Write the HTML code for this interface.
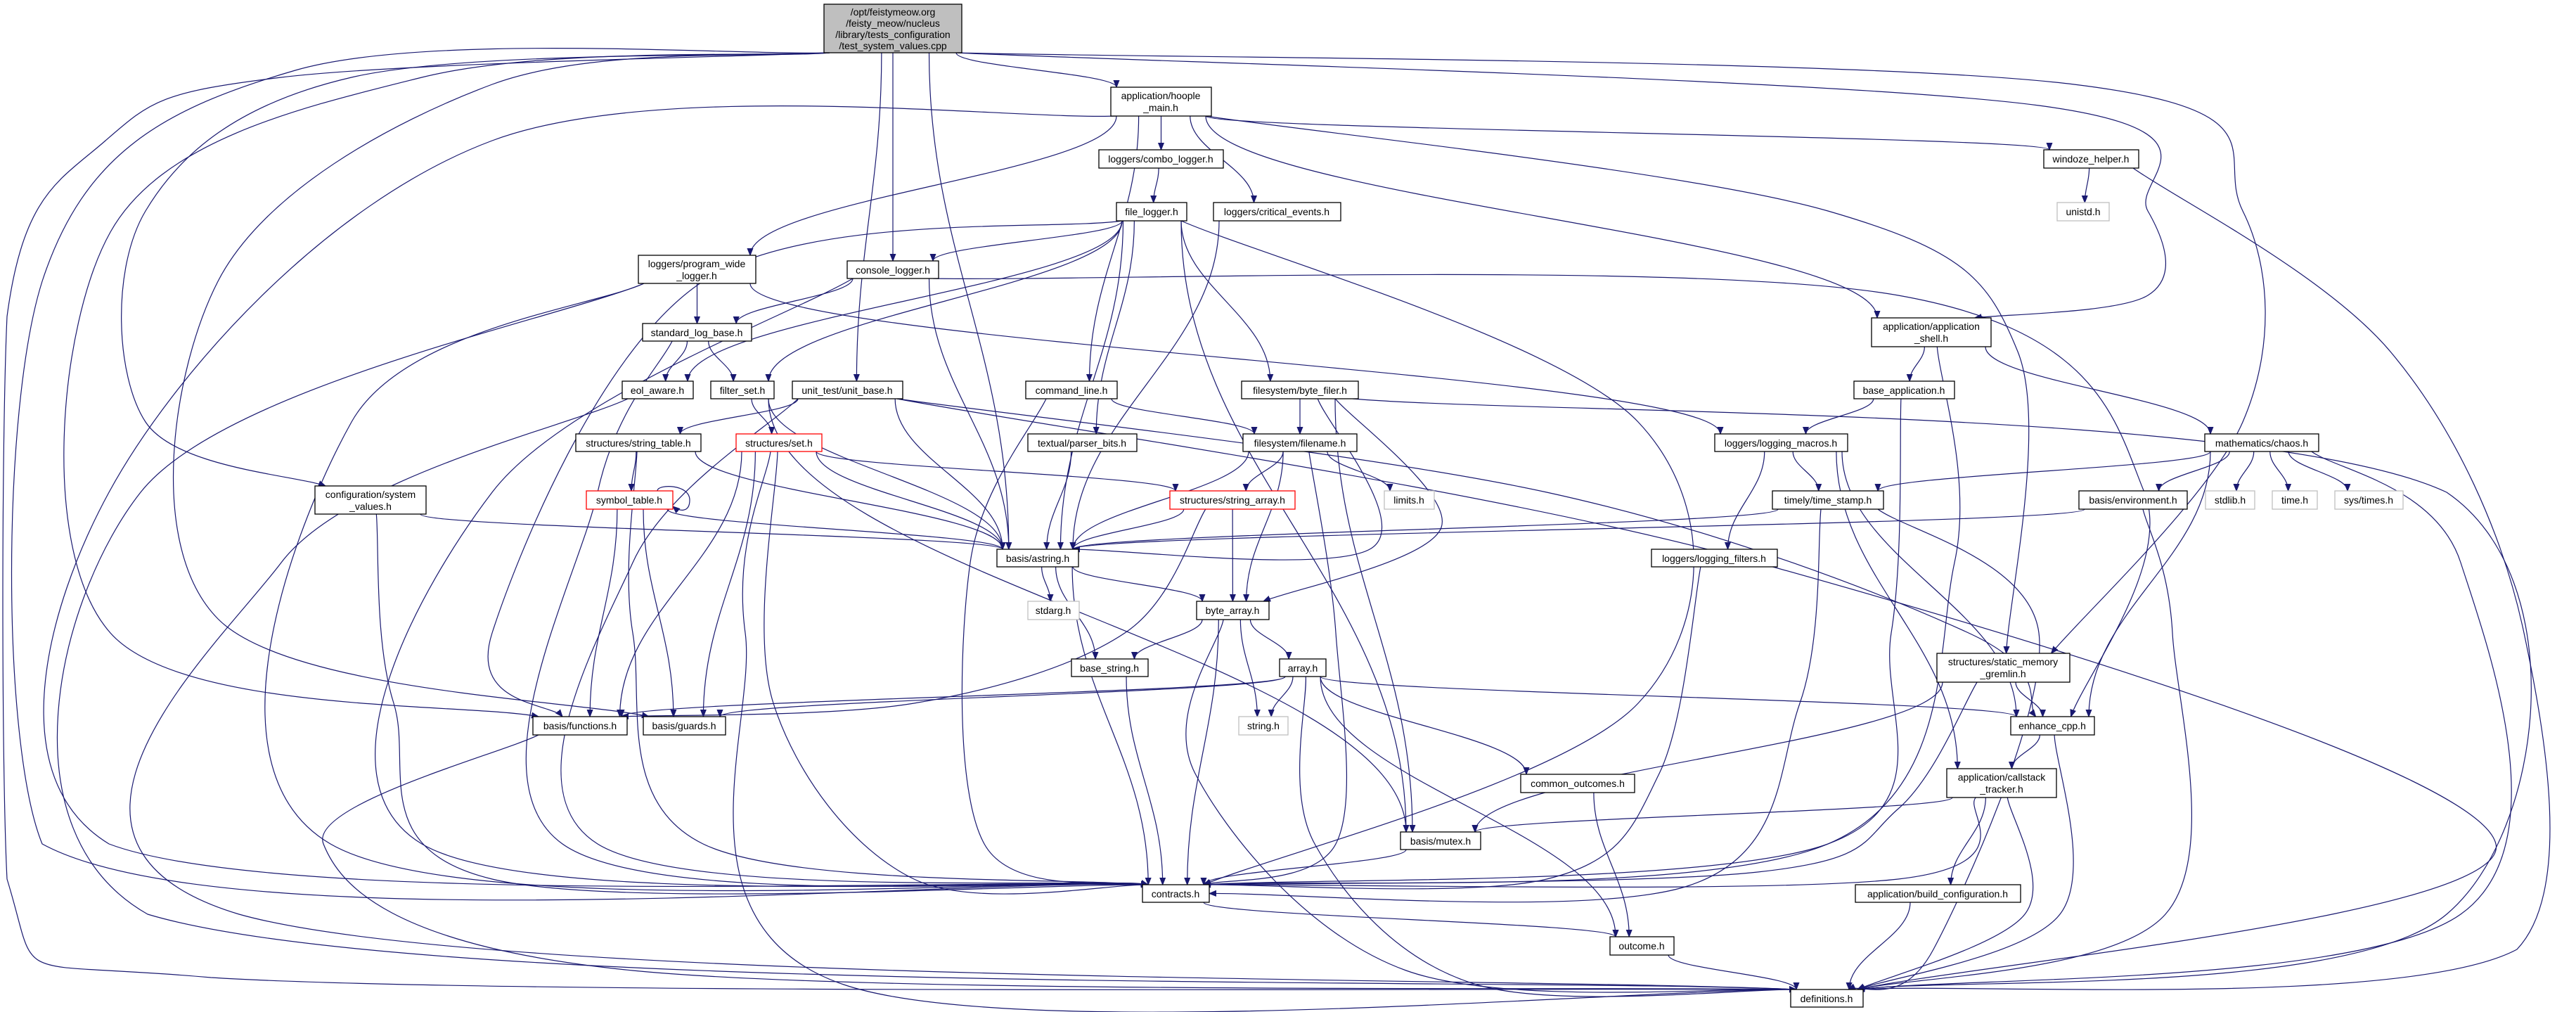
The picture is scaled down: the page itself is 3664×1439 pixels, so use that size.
<!DOCTYPE html>
<html><head><meta charset="utf-8"><style>
html,body{margin:0;padding:0;background:#fff;}
svg{display:block;}
text{font-family:"Liberation Sans",sans-serif;font-size:14px;fill:#000;text-anchor:middle;}
.n{fill:#fff;stroke:#000;stroke-width:1.3;}
.r{fill:#fff;stroke:#ff0000;stroke-width:1.3;}
.g{fill:#fff;stroke:#bfbfbf;stroke-width:1.3;}
.e{fill:none;stroke:#191970;stroke-width:1.2;}
</style></head><body>
<svg id="s" width="3664" height="1439" viewBox="0 0 3664 1439" xmlns="http://www.w3.org/2000/svg">
<defs><marker id="a" viewBox="0 0 10 10" refX="10" refY="5" markerWidth="10" markerHeight="10" markerUnits="userSpaceOnUse" orient="auto"><path d="M0,1 L10,5 L0,9 z" fill="#191970" stroke="#191970"/></marker></defs>
<g id="edges"></g>
<g id="nodes">
<rect x="1172" y="6" width="196" height="69" fill="#bfbfbf" stroke="#000" stroke-width="1.3"/>
<text x="1270" y="22">/opt/feistymeow.org</text><text x="1270" y="38">/feisty_meow/nucleus</text><text x="1270" y="54">/library/tests_configuration</text><text x="1270" y="70">/test_system_values.cpp</text>
<rect class="n" x="1580" y="124" width="143" height="41"/><text x="1651" y="141">application/hoople</text><text x="1651" y="158">_main.h</text>
<rect class="n" x="1563" y="213" width="177" height="26"/><text x="1651" y="231">loggers/combo_logger.h</text>
<rect class="n" x="1588" y="288" width="100" height="26"/><text x="1638" y="306">file_logger.h</text>
<rect class="n" x="1726" y="288" width="181" height="26"/><text x="1816" y="306">loggers/critical_events.h</text>
<rect class="n" x="2907" y="213" width="135" height="26"/><text x="2974" y="231">windoze_helper.h</text>
<rect class="g" x="2926" y="288" width="74" height="26"/><text x="2963" y="306">unistd.h</text>
<rect class="n" x="908" y="363" width="167" height="40"/><text x="991" y="380">loggers/program_wide</text><text x="991" y="397">_logger.h</text>
<rect class="n" x="1205" y="371" width="130" height="25"/><text x="1270" y="389">console_logger.h</text>
<rect class="n" x="914" y="460" width="155" height="25"/><text x="991" y="478">standard_log_base.h</text>
<rect class="n" x="2662" y="452" width="170" height="41"/><text x="2747" y="469">application/application</text><text x="2747" y="486">_shell.h</text>
<rect class="n" x="885" y="542" width="101" height="25"/><text x="935" y="560">eol_aware.h</text>
<rect class="n" x="1011" y="542" width="90" height="25"/><text x="1056" y="560">filter_set.h</text>
<rect class="n" x="1127" y="542" width="157" height="25"/><text x="1205" y="560">unit_test/unit_base.h</text>
<rect class="n" x="1459" y="542" width="130" height="25"/><text x="1524" y="560">command_line.h</text>
<rect class="n" x="1766" y="542" width="166" height="25"/><text x="1849" y="560">filesystem/byte_filer.h</text>
<rect class="n" x="2637" y="542" width="143" height="25"/><text x="2708" y="560">base_application.h</text>
<rect class="n" x="819" y="617" width="178" height="25"/><text x="908" y="635">structures/string_table.h</text>
<rect class="r" x="1047" y="617" width="122" height="25"/><text x="1108" y="635">structures/set.h</text>
<rect class="n" x="1462" y="617" width="155" height="25"/><text x="1539" y="635">textual/parser_bits.h</text>
<rect class="n" x="1768" y="617" width="162" height="25"/><text x="1849" y="635">filesystem/filename.h</text>
<rect class="n" x="2439" y="617" width="189" height="25"/><text x="2533" y="635">loggers/logging_macros.h</text>
<rect class="n" x="3136" y="617" width="162" height="25"/><text x="3217" y="635">mathematics/chaos.h</text>
<rect class="n" x="448" y="691" width="158" height="40"/><text x="527" y="708">configuration/system</text><text x="527" y="725">_values.h</text>
<rect class="r" x="834" y="698" width="123" height="26"/><text x="895" y="716">symbol_table.h</text>
<rect class="r" x="1664" y="698" width="178" height="26"/><text x="1753" y="716">structures/string_array.h</text>
<rect class="g" x="1969" y="698" width="71" height="26"/><text x="2004" y="716">limits.h</text>
<rect class="n" x="2521" y="698" width="158" height="26"/><text x="2600" y="716">timely/time_stamp.h</text>
<rect class="n" x="2957" y="698" width="154" height="26"/><text x="3034" y="716">basis/environment.h</text>
<rect class="g" x="3137" y="698" width="70" height="26"/><text x="3172" y="716">stdlib.h</text>
<rect class="g" x="3232" y="698" width="64" height="26"/><text x="3264" y="716">time.h</text>
<rect class="g" x="3321" y="698" width="97" height="26"/><text x="3369" y="716">sys/times.h</text>
<rect class="n" x="1418" y="781" width="116" height="25"/><text x="1476" y="799">basis/astring.h</text>
<rect class="n" x="2349" y="781" width="179" height="25"/><text x="2438" y="799">loggers/logging_filters.h</text>
<rect class="g" x="1462" y="855" width="73" height="26"/><text x="1498" y="873">stdarg.h</text>
<rect class="n" x="1702" y="855" width="103" height="26"/><text x="1753" y="873">byte_array.h</text>
<rect class="n" x="1524" y="937" width="109" height="25"/><text x="1578" y="955">base_string.h</text>
<rect class="n" x="1820" y="937" width="66" height="25"/><text x="1853" y="955">array.h</text>
<rect class="n" x="2755" y="929" width="189" height="41"/><text x="2849" y="946">structures/static_memory</text><text x="2849" y="963">_gremlin.h</text>
<rect class="n" x="758" y="1019" width="134" height="26"/><text x="825" y="1037">basis/functions.h</text>
<rect class="n" x="915" y="1019" width="117" height="26"/><text x="973" y="1037">basis/guards.h</text>
<rect class="g" x="1762" y="1019" width="70" height="26"/><text x="1797" y="1037">string.h</text>
<rect class="n" x="2860" y="1019" width="119" height="26"/><text x="2919" y="1037">enhance_cpp.h</text>
<rect class="n" x="2163" y="1101" width="162" height="26"/><text x="2244" y="1119">common_outcomes.h</text>
<rect class="n" x="2769" y="1093" width="156" height="41"/><text x="2847" y="1110">application/callstack</text><text x="2847" y="1127">_tracker.h</text>
<rect class="n" x="1992" y="1183" width="114" height="25"/><text x="2049" y="1201">basis/mutex.h</text>
<rect class="n" x="1625" y="1258" width="95" height="25"/><text x="1672" y="1276">contracts.h</text>
<rect class="n" x="2639" y="1258" width="235" height="25"/><text x="2756" y="1276">application/build_configuration.h</text>
<rect class="n" x="2290" y="1332" width="91" height="26"/><text x="2335" y="1350">outcome.h</text>
<rect class="n" x="2547" y="1407" width="103" height="25"/><text x="2598" y="1425">definitions.h</text>
</g>
</svg>
<script>
var N={root:[1172,6,196,69],hoople:[1580,124,143,41],combo:[1563,213,177,26],fl:[1588,288,100,26],crit:[1726,288,181,26],
win:[2907,213,135,26],unistd:[2926,288,74,26],pwl:[908,363,167,40],con:[1205,371,130,25],slb:[914,460,155,25],
shell:[2662,452,170,41],eol:[885,542,101,25],fs:[1011,542,90,25],ub:[1127,542,157,25],cl:[1459,542,130,25],bf:[1766,542,166,25],
ba:[2637,542,143,25],st:[819,617,178,25],set:[1047,617,122,25],pb:[1462,617,155,25],fn:[1768,617,162,25],lm:[2439,617,189,25],
chaos:[3136,617,162,25],sv:[448,691,158,40],sym:[834,698,123,26],sa:[1664,698,178,26],lim:[1969,698,71,26],ts:[2521,698,158,26],
env:[2957,698,154,26],stdlib:[3137,698,70,26],time:[3232,698,64,26],systimes:[3321,698,97,26],as:[1418,781,116,25],lf:[2349,781,179,25],
stdarg:[1462,855,73,26],bya:[1702,855,103,26],bs:[1524,937,109,25],arr:[1820,937,66,25],smg:[2755,929,189,41],func:[758,1019,134,26],
guards:[915,1019,117,26],strh:[1762,1019,70,26],enh:[2860,1019,119,26],co:[2163,1101,162,26],cst:[2769,1093,156,41],mutex:[1992,1183,114,25],
con2:[1625,1258,95,25],bc:[2639,1258,235,25],out:[2290,1332,91,26],def:[2547,1407,103,25]};
var E=[
['root','hoople'],['root','con'],['root','ub'],['root','as'],['root','func',[[600,110],[157,330],[157,900]]],['root','guards',[[700,120],[310,400],[310,880]]],
['root','sv',[[500,110],[207,300],[207,600]]],['root','con2',[[420,100],[60,400],[60,1200]]],['root','def',[[400,110],[150,200],[10,450],[10,1250],[300,1390]]],
['root','shell',[[2900,150],[3055,300],[3055,420]]],['root','smg',[[2950,120],[3190,300],[3190,600]]],
['hoople','combo'],['hoople','crit'],['hoople','cl'],['hoople','pwl'],['hoople','win'],['hoople','shell'],['hoople','smg',[[2600,300],[2870,500]]],['hoople','con2',[[700,200],[155,700],[155,1200]]],
['combo','fl'],['fl','con'],['fl','eol'],['fl','fs'],['fl','pb'],['fl','as'],['fl','bf'],['fl','mutex'],['fl','con2',[[2330,600],[2330,1000]]],['fl','func',[[1000,400],[700,900]]],
['crit','as'],['win','unistd'],['win','def',[[3400,500],[3590,900],[3580,1350]]],
['pwl','slb'],['pwl','lm'],['pwl','def',[[200,700],[210,1300]]],['pwl','con2',[[500,600],[470,1200]]],
['con','slb'],['con','as'],['con','enh',[[2700,420],[3050,700]]],['con','con2',[[700,700],[600,1200]]],
['slb','eol'],['slb','fs'],['slb','con2',[[850,700],[800,1200]]],
['shell','ba'],['shell','chaos'],['shell','con2',[[2780,800],[2600,1200]]],
['eol','def',[[400,800],[340,1300]]],['fs','set'],['fs','as'],['fs','mutex'],
['ub','st'],['ub','as'],['ub','enh',[[2200,700],[2800,900]]],['ub','def',[[2500,800],[3550,1200]]],['ub','con2',[[900,800],[850,1200]]],
['cl','fn'],['cl','con2',[[1380,800],[1400,1200]]],['bf','fn'],['bf','bya',[[2050,750]]],['bf','mutex'],['bf','def',[[3480,700],[3480,1300]]],['bf','as',[[1950,780]]],
['ba','lm'],['ba','con2',[[2690,900],[2600,1200]]],
['st','sym'],['st','as'],['st','con2',[[900,900],[1000,1200]]],
['set','sa'],['set','as'],['set','func'],['set','guards'],['set','con2',[[1100,1000],[1300,1250]]],['set','def',[[1060,900],[1200,1400]]],
['pb','as'],['fn','sa'],['fn','lim'],['fn','as'],['fn','bya'],['fn','con2',[[1900,900],[1900,1200]]],
['lm','ts'],['lm','lf'],['lm','cst'],['lm','enh'],
['chaos','ts'],['chaos','env'],['chaos','stdlib'],['chaos','time'],['chaos','systimes'],['chaos','enh'],['chaos','def',[[3500,800],[3500,1300]]],
['sv','as'],['sv','con2',[[560,1000],[700,1250]]],
['sym','func'],['sym','guards'],['sym','as'],
['sa','as'],['sa','bya'],['sa','func',[[1600,900],[1300,1000]]],
['ts','as'],['ts','con2',[[2560,1000],[2400,1260]]],['ts','def',[[2900,900],[2750,1350]]],
['env','as'],['env','def',[[3090,900],[3080,1300]]],
['as','stdarg'],['as','bya'],['as','bs'],['as','con2'],
['lf','con2',[[2360,1100],[2200,1250]]],
['bya','bs'],['bya','arr'],['bya','strh'],['bya','con2'],['bya','def',[[1700,1100],[2000,1380]]],
['bs','con2'],['arr','func'],['arr','guards'],['arr','strh'],['arr','co'],['arr','out'],['arr','enh'],['arr','def',[[1870,1200],[2100,1400]]],
['smg','mutex'],['smg','enh'],['smg','con2',[[2700,1150],[2500,1240]]],
['func','def',[[460,1200],[900,1380]]],['enh','cst'],['enh','def',[[2930,1300]]],['co','out'],
['cst','mutex'],['cst','bc'],['cst','con2',[[2700,1250]]],['cst','def',[[2880,1300]]],['mutex','con2'],['con2','out'],['bc','def'],['out','def']
];
function cx(n){return n[0]+n[2]/2;}
function cy(n){return n[1]+n[3]/2;}
function pathThrough(p){var d='M'+p[0][0].toFixed(1)+','+p[0][1].toFixed(1);
 for(var i=0;i<p.length-1;i++){var p0=p[i-1]||p[i],p1=p[i],p2=p[i+1],p3=p[i+2]||p2;
  var c1=[p1[0]+(p2[0]-p0[0])/6,p1[1]+(p2[1]-p0[1])/6],c2=[p2[0]-(p3[0]-p1[0])/6,p2[1]-(p3[1]-p1[1])/6];
  c1[0]=Math.max(2,Math.min(3660,c1[0]));c2[0]=Math.max(2,Math.min(3660,c2[0]));
  d+=' C'+c1[0].toFixed(1)+','+c1[1].toFixed(1)+' '+c2[0].toFixed(1)+','+c2[1].toFixed(1)+' '+p2[0].toFixed(1)+','+p2[1].toFixed(1);}
 return d;}
var g=document.getElementById('edges'),out='';
E.forEach(function(e){var a=N[e[0]],b=N[e[1]];if(!a||!b)return;var w=e[2]||[];
 var first=w.length?w[0]:[cx(b),cy(b)],last=w.length?w[w.length-1]:[cx(a),cy(a)];
 var s,t;
 if(first[1]>a[1]+a[3]){var sx=cx(a)+(first[0]-cx(a))*0.25;sx=Math.max(a[0]+8,Math.min(a[0]+a[2]-8,sx));s=[sx,a[1]+a[3]];}
 else if(first[0]<a[0]){s=[a[0],cy(a)];}else{s=[a[0]+a[2],cy(a)];}
 if(last[1]<b[1]){var tx=cx(b)+(last[0]-cx(b))*0.2;tx=Math.max(b[0]+8,Math.min(b[0]+b[2]-8,tx));t=[tx,b[1]];}
 else if(last[0]<b[0]){t=[b[0],cy(b)];}else{t=[b[0]+b[2],cy(b)];}
 var d;
 if(w.length){d=pathThrough([s].concat(w).concat([t]));}
 else{var dy=t[1]-s[1];
  if(t[1]===b[1]&&dy>0){d='M'+s[0]+','+s[1]+' C'+s[0]+','+(s[1]+dy*0.4)+' '+t[0]+','+(t[1]-dy*0.4)+' '+t[0]+','+t[1];}
  else d='M'+s[0]+','+s[1]+' L'+t[0]+','+t[1];}
 out+='<path class="e" d="'+d+'" marker-end="url(#a)"/>';});
out+='<path class="e" d="M935,698 C935,688 981,688 981,711 C981,730 965,727 957,720" marker-end="url(#a)"/>';
g.innerHTML=out;
</script>
</body></html>
